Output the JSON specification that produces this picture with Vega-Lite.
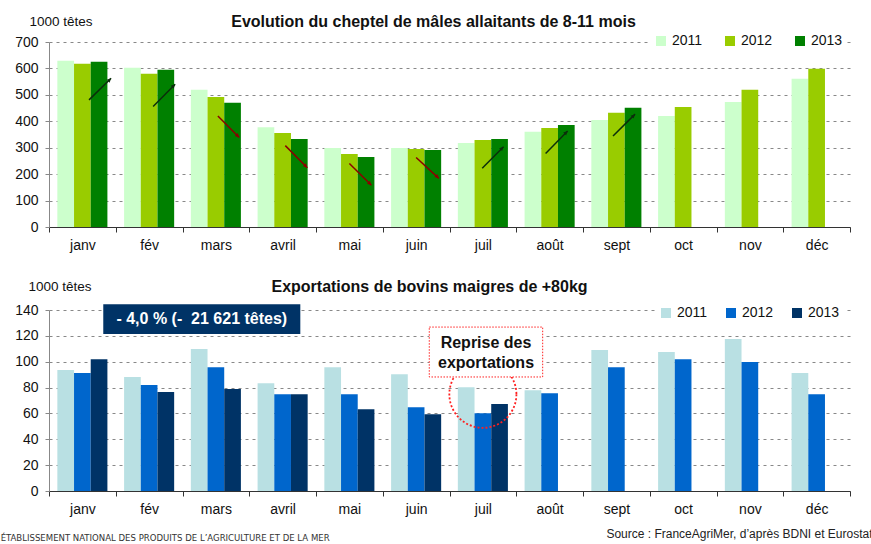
{
  "$schema": "https://vega.github.io/schema/vega-lite/v6.json",
  "background": "white",
  "padding": {"left": 0, "top": 14, "right": 0, "bottom": 0},
  "spacing": 27,
  "config": {
    "font": "Liberation Sans",
    "view": {"stroke": null},
    "axis": {"labelFont": "Liberation Sans", "titleFont": "Liberation Sans"},
    "legend": {"labelFont": "Liberation Sans"}
  },
  "resolve": {"scale": {"color": "independent"}},
  "title": {
    "text": "ÉTABLISSEMENT NATIONAL DES PRODUITS DE L’AGRICULTURE ET DE LA MER",
    "orient": "bottom",
    "anchor": "start",
    "frame": "bounds",
    "dx": -14,
    "font": "DejaVu Sans Condensed, Liberation Sans",
    "fontSize": 9.5,
    "fontWeight": "normal",
    "color": "#333333",
    "offset": -6
  },
  "vconcat": [
    {
      "width": 801,
      "height": 185,
      "title": {
        "text": "Evolution du cheptel de mâles allaitants de 8-11 mois",
        "frame": "group",
        "anchor": "middle",
        "dx": -16,
        "fontSize": 16,
        "fontWeight": "bold",
        "color": "#111111",
        "offset": -16
      },
      "layer": [
        {
          "data": {"values": [
            {"mois": "janv", "annee": "2011", "valeur": 629},
            {"mois": "janv", "annee": "2012", "valeur": 618},
            {"mois": "janv", "annee": "2013", "valeur": 625},
            {"mois": "fév", "annee": "2011", "valeur": 603},
            {"mois": "fév", "annee": "2012", "valeur": 580},
            {"mois": "fév", "annee": "2013", "valeur": 595},
            {"mois": "mars", "annee": "2011", "valeur": 519},
            {"mois": "mars", "annee": "2012", "valeur": 492},
            {"mois": "mars", "annee": "2013", "valeur": 470},
            {"mois": "avril", "annee": "2011", "valeur": 377},
            {"mois": "avril", "annee": "2012", "valeur": 356},
            {"mois": "avril", "annee": "2013", "valeur": 333},
            {"mois": "mai", "annee": "2011", "valeur": 299},
            {"mois": "mai", "annee": "2012", "valeur": 276},
            {"mois": "mai", "annee": "2013", "valeur": 265},
            {"mois": "juin", "annee": "2011", "valeur": 299},
            {"mois": "juin", "annee": "2012", "valeur": 295},
            {"mois": "juin", "annee": "2013", "valeur": 291},
            {"mois": "juil", "annee": "2011", "valeur": 318},
            {"mois": "juil", "annee": "2012", "valeur": 329},
            {"mois": "juil", "annee": "2013", "valeur": 333},
            {"mois": "août", "annee": "2011", "valeur": 360},
            {"mois": "août", "annee": "2012", "valeur": 375},
            {"mois": "août", "annee": "2013", "valeur": 386},
            {"mois": "sept", "annee": "2011", "valeur": 405},
            {"mois": "sept", "annee": "2012", "valeur": 432},
            {"mois": "sept", "annee": "2013", "valeur": 451},
            {"mois": "oct", "annee": "2011", "valeur": 420},
            {"mois": "oct", "annee": "2012", "valeur": 454},
            {"mois": "nov", "annee": "2011", "valeur": 473},
            {"mois": "nov", "annee": "2012", "valeur": 519},
            {"mois": "déc", "annee": "2011", "valeur": 561},
            {"mois": "déc", "annee": "2012", "valeur": 599}
          ]},
          "mark": {"type": "bar"},
          "encoding": {
            "x": {
              "field": "mois", "type": "nominal",
              "sort": ["janv", "fév", "mars", "avril", "mai", "juin", "juil", "août", "sept", "oct", "nov", "déc"],
              "scale": {"paddingInner": 0, "paddingOuter": 0},
              "axis": {"title": null, "tickBand": "extent", "ticks": true, "labelAngle": 0, "labelFontSize": 14, "labelColor": "#111111", "labelPadding": 6, "tickSize": 5, "tickWidth": 1, "grid": false, "domainColor": "#333333", "tickColor": "#333333"}
            },
            "xOffset": {"field": "annee", "type": "nominal", "scale": {"paddingInner": 0, "paddingOuter": 0.5}},
            "y": {
              "field": "valeur", "type": "quantitative", "title": "1000 têtes",
              "scale": {"domain": [0, 700], "nice": false},
              "axis": {"titleAngle": 0, "titleAlign": "left", "titleBaseline": "alphabetic", "titleX": -20, "titleY": -17, "titleFontSize": 13.5, "titleFontWeight": "normal", "titleColor": "#111111", "values": [0, 100, 200, 300, 400, 500, 600, 700], "labelOverlap": false, "grid": true, "gridDash": [3, 4], "gridColor": "#888888", "domainColor": "#888888", "tickColor": "#888888", "tickSize": 4, "labelFontSize": 14, "labelColor": "#111111", "labelPadding": 7}
            },
            "color": {
              "field": "annee", "type": "nominal",
              "scale": {"domain": ["2011", "2012", "2013"], "range": ["#CCFFCC", "#99CC00", "#008000"]},
              "legend": {"title": null, "orient": "none", "legendX": 601, "legendY": -12, "direction": "horizontal", "symbolType": "square", "symbolSize": 100, "symbolStrokeWidth": 0, "labelFontSize": 14, "labelColor": "#111111", "labelOffset": 4, "columnPadding": 20, "fillColor": "white", "padding": 4}
            }
          }
        },
        {
          "data": {"name": "fleches"},
          "transform": [{"filter": "datum.sens === 'hausse'"}],
          "mark": {"type": "rule", "color": "#0B2E0B", "strokeWidth": 1.5},
          "encoding": {
            "x": {"field": "x0", "type": "quantitative", "scale": {"domain": [0, 12], "nice": false, "zero": false}, "axis": null},
            "x2": {"field": "x1"},
            "y": {"field": "y0", "type": "quantitative", "scale": {"domain": [0, 700], "nice": false}, "axis": null},
            "y2": {"field": "y1"}
          }
        },
        {
          "data": {"name": "fleches"},
          "transform": [{"filter": "datum.sens === 'baisse'"}],
          "mark": {"type": "rule", "color": "#8B0000", "strokeWidth": 1.5},
          "encoding": {
            "x": {"field": "x0", "type": "quantitative", "scale": {"domain": [0, 12], "nice": false, "zero": false}, "axis": null},
            "x2": {"field": "x1"},
            "y": {"field": "y0", "type": "quantitative", "scale": {"domain": [0, 700], "nice": false}, "axis": null},
            "y2": {"field": "y1"}
          }
        },
        {
          "data": {"name": "fleches"},
          "transform": [{"filter": "datum.sens === 'hausse'"}],
          "mark": {"type": "point", "shape": "M0,0L-0.5,1L0.5,1Z", "filled": true, "color": "#0B2E0B", "size": 70, "angle": 45, "opacity": 1},
          "encoding": {
            "x": {"field": "x1", "type": "quantitative", "scale": {"domain": [0, 12], "nice": false, "zero": false}, "axis": null},
            "y": {"field": "y1", "type": "quantitative", "scale": {"domain": [0, 700], "nice": false}, "axis": null}
          }
        },
        {
          "data": {"name": "fleches"},
          "transform": [{"filter": "datum.sens === 'baisse'"}],
          "mark": {"type": "point", "shape": "M0,0L-0.5,1L0.5,1Z", "filled": true, "color": "#8B0000", "size": 70, "angle": 135, "opacity": 1},
          "encoding": {
            "x": {"field": "x1", "type": "quantitative", "scale": {"domain": [0, 12], "nice": false, "zero": false}, "axis": null},
            "y": {"field": "y1", "type": "quantitative", "scale": {"domain": [0, 700], "nice": false}, "axis": null}
          }
        }
      ],
      "resolve": {"scale": {"x": "independent", "y": "independent"}}
    },
    {
      "width": 801,
      "height": 181,
      "title": {
        "text": "Exportations de bovins maigres de +80kg",
        "frame": "group",
        "anchor": "middle",
        "dx": -20,
        "fontSize": 16,
        "fontWeight": "bold",
        "color": "#111111",
        "offset": -16
      },
      "layer": [
        {
          "data": {"values": [
            {"mois": "janv", "annee": "2011", "valeur": 93.5},
            {"mois": "janv", "annee": "2012", "valeur": 91.2},
            {"mois": "janv", "annee": "2013", "valeur": 102},
            {"mois": "fév", "annee": "2011", "valeur": 88.1},
            {"mois": "fév", "annee": "2012", "valeur": 81.9},
            {"mois": "fév", "annee": "2013", "valeur": 76.5},
            {"mois": "mars", "annee": "2011", "valeur": 109.8},
            {"mois": "mars", "annee": "2012", "valeur": 95.8},
            {"mois": "mars", "annee": "2013", "valeur": 78.8},
            {"mois": "avril", "annee": "2011", "valeur": 83.4},
            {"mois": "avril", "annee": "2012", "valeur": 74.9},
            {"mois": "avril", "annee": "2013", "valeur": 74.9},
            {"mois": "mai", "annee": "2011", "valeur": 95.8},
            {"mois": "mai", "annee": "2012", "valeur": 74.9},
            {"mois": "mai", "annee": "2013", "valeur": 63.3},
            {"mois": "juin", "annee": "2011", "valeur": 90.4},
            {"mois": "juin", "annee": "2012", "valeur": 64.8},
            {"mois": "juin", "annee": "2013", "valeur": 59.4},
            {"mois": "juil", "annee": "2011", "valeur": 80.3},
            {"mois": "juil", "annee": "2012", "valeur": 60.2},
            {"mois": "juil", "annee": "2013", "valeur": 67.2},
            {"mois": "août", "annee": "2011", "valeur": 78},
            {"mois": "août", "annee": "2012", "valeur": 75.7},
            {"mois": "sept", "annee": "2011", "valeur": 109},
            {"mois": "sept", "annee": "2012", "valeur": 95.8},
            {"mois": "oct", "annee": "2011", "valeur": 107.5},
            {"mois": "oct", "annee": "2012", "valeur": 102},
            {"mois": "nov", "annee": "2011", "valeur": 117.5},
            {"mois": "nov", "annee": "2012", "valeur": 99.7},
            {"mois": "déc", "annee": "2011", "valeur": 91.2},
            {"mois": "déc", "annee": "2012", "valeur": 74.9}
          ]},
          "mark": {"type": "bar"},
          "encoding": {
            "x": {
              "field": "mois", "type": "nominal",
              "sort": ["janv", "fév", "mars", "avril", "mai", "juin", "juil", "août", "sept", "oct", "nov", "déc"],
              "scale": {"paddingInner": 0, "paddingOuter": 0},
              "axis": {"title": "Source : FranceAgriMer, d’après BDNI et Eurostat", "titleX": 823, "titleY": 46, "titleAlign": "right", "titleBaseline": "alphabetic", "titleFontSize": 12, "titleFontWeight": "normal", "titleColor": "#222222", "tickBand": "extent", "ticks": true, "labelAngle": 0, "labelFontSize": 14, "labelColor": "#111111", "labelPadding": 6, "tickSize": 5, "tickWidth": 1, "grid": false, "domainColor": "#333333", "tickColor": "#333333"}
            },
            "xOffset": {"field": "annee", "type": "nominal", "scale": {"paddingInner": 0, "paddingOuter": 0.5}},
            "y": {
              "field": "valeur", "type": "quantitative", "title": "1000 têtes",
              "scale": {"domain": [0, 140], "nice": false},
              "axis": {"titleAngle": 0, "titleAlign": "left", "titleBaseline": "alphabetic", "titleX": -21, "titleY": -20, "titleFontSize": 13.5, "titleFontWeight": "normal", "titleColor": "#111111", "values": [0, 20, 40, 60, 80, 100, 120, 140], "labelOverlap": false, "grid": true, "gridDash": [3, 4], "gridColor": "#888888", "domainColor": "#888888", "tickColor": "#888888", "tickSize": 4, "labelFontSize": 14, "labelColor": "#111111", "labelPadding": 7}
            },
            "color": {
              "field": "annee", "type": "nominal",
              "scale": {"domain": ["2011", "2012", "2013"], "range": ["#B9E0E3", "#0066CC", "#003366"]},
              "legend": {"title": null, "orient": "none", "legendX": 606, "legendY": -8, "direction": "horizontal", "symbolType": "square", "symbolSize": 100, "symbolStrokeWidth": 0, "labelFontSize": 14, "labelColor": "#111111", "labelOffset": 4, "columnPadding": 16, "fillColor": "white", "padding": 4}
            }
          }
        },
        {
          "data": {"name": "annotations"},
          "transform": [{"filter": "datum.note === 'reprise'"}],
          "mark": {"type": "point", "shape": "circle", "size": 4500, "filled": false, "stroke": "#FF2020", "strokeWidth": 1.8, "strokeDash": [2, 2], "opacity": 1},
          "encoding": {
            "x": {"field": "cx", "type": "quantitative", "scale": {"domain": [0, 12], "nice": false, "zero": false}, "axis": null},
            "y": {"field": "cy", "type": "quantitative", "scale": {"domain": [0, 140], "nice": false}, "axis": null}
          }
        },
        {
          "data": {"name": "annotations"},
          "transform": [{"filter": "datum.note === 'reprise'"}],
          "mark": {"type": "rect", "fill": "#FFFFFF", "stroke": "#FF2020", "strokeWidth": 1, "strokeDash": [1.5, 1.5]},
          "encoding": {
            "x": {"field": "x0", "type": "quantitative", "scale": {"domain": [0, 12], "nice": false, "zero": false}, "axis": null},
            "x2": {"field": "x1"},
            "y": {"field": "y0", "type": "quantitative", "scale": {"domain": [0, 140], "nice": false}, "axis": null},
            "y2": {"field": "y1"}
          }
        },
        {
          "data": {"name": "annotations"},
          "transform": [{"filter": "datum.note === 'bilan'"}],
          "mark": {"type": "rect", "fill": "#003366"},
          "encoding": {
            "x": {"field": "x0", "type": "quantitative", "scale": {"domain": [0, 12], "nice": false, "zero": false}, "axis": null},
            "x2": {"field": "x1"},
            "y": {"field": "y0", "type": "quantitative", "scale": {"domain": [0, 140], "nice": false}, "axis": null},
            "y2": {"field": "y1"}
          }
        },
        {
          "data": {"name": "annotations"},
          "transform": [{"filter": "datum.note === 'bilan'"}],
          "mark": {"type": "text", "fontSize": 16, "fontWeight": "bold", "color": "#FFFFFF", "align": "center", "baseline": "middle"},
          "encoding": {
            "x": {"field": "tx", "type": "quantitative", "scale": {"domain": [0, 12], "nice": false, "zero": false}, "axis": null},
            "y": {"field": "ty", "type": "quantitative", "scale": {"domain": [0, 140], "nice": false}, "axis": null},
            "text": {"field": "texte"}
          }
        },
        {
          "data": {"name": "annotations"},
          "transform": [{"filter": "datum.note === 'reprise'"}],
          "mark": {"type": "text", "fontSize": 16, "fontWeight": "bold", "color": "#111111", "align": "center", "baseline": "middle", "lineBreak": "\n", "lineHeight": 20},
          "encoding": {
            "x": {"field": "tx", "type": "quantitative", "scale": {"domain": [0, 12], "nice": false, "zero": false}, "axis": null},
            "y": {"field": "ty", "type": "quantitative", "scale": {"domain": [0, 140], "nice": false}, "axis": null},
            "text": {"field": "texte"}
          }
        }
      ],
      "resolve": {"scale": {"x": "independent", "y": "independent"}}
    }
  ],
  "datasets": {
    "fleches": [
      {"mois": "janv", "sens": "hausse", "x0": 0.60, "y0": 481, "x1": 0.93, "y1": 563},
      {"mois": "fév", "sens": "hausse", "x0": 1.56, "y0": 456, "x1": 1.89, "y1": 540},
      {"mois": "mars", "sens": "baisse", "x0": 2.53, "y0": 420, "x1": 2.85, "y1": 339},
      {"mois": "avril", "sens": "baisse", "x0": 3.54, "y0": 308, "x1": 3.87, "y1": 224},
      {"mois": "mai", "sens": "baisse", "x0": 4.50, "y0": 240, "x1": 4.83, "y1": 158},
      {"mois": "juin", "sens": "baisse", "x0": 5.50, "y0": 263, "x1": 5.84, "y1": 184},
      {"mois": "juil", "sens": "hausse", "x0": 6.49, "y0": 222, "x1": 6.81, "y1": 304},
      {"mois": "août", "sens": "hausse", "x0": 7.44, "y0": 278, "x1": 7.77, "y1": 363},
      {"mois": "sept", "sens": "hausse", "x0": 8.45, "y0": 344, "x1": 8.78, "y1": 427}
    ],
    "annotations": [
      {"note": "bilan", "texte": "- 4,0 % (-\u00a0 21 621 têtes)", "x0": 0.813, "x1": 3.765, "y0": 121.4, "y1": 144.4, "tx": 2.289, "ty": 132.9},
      {"note": "reprise", "texte": "Reprise des\nexportations", "x0": 5.697, "x1": 7.396, "y0": 88.2, "y1": 126.8, "tx": 6.547, "ty": 114.2, "cx": 6.5, "cy": 74.8}
    ]
  }
}
